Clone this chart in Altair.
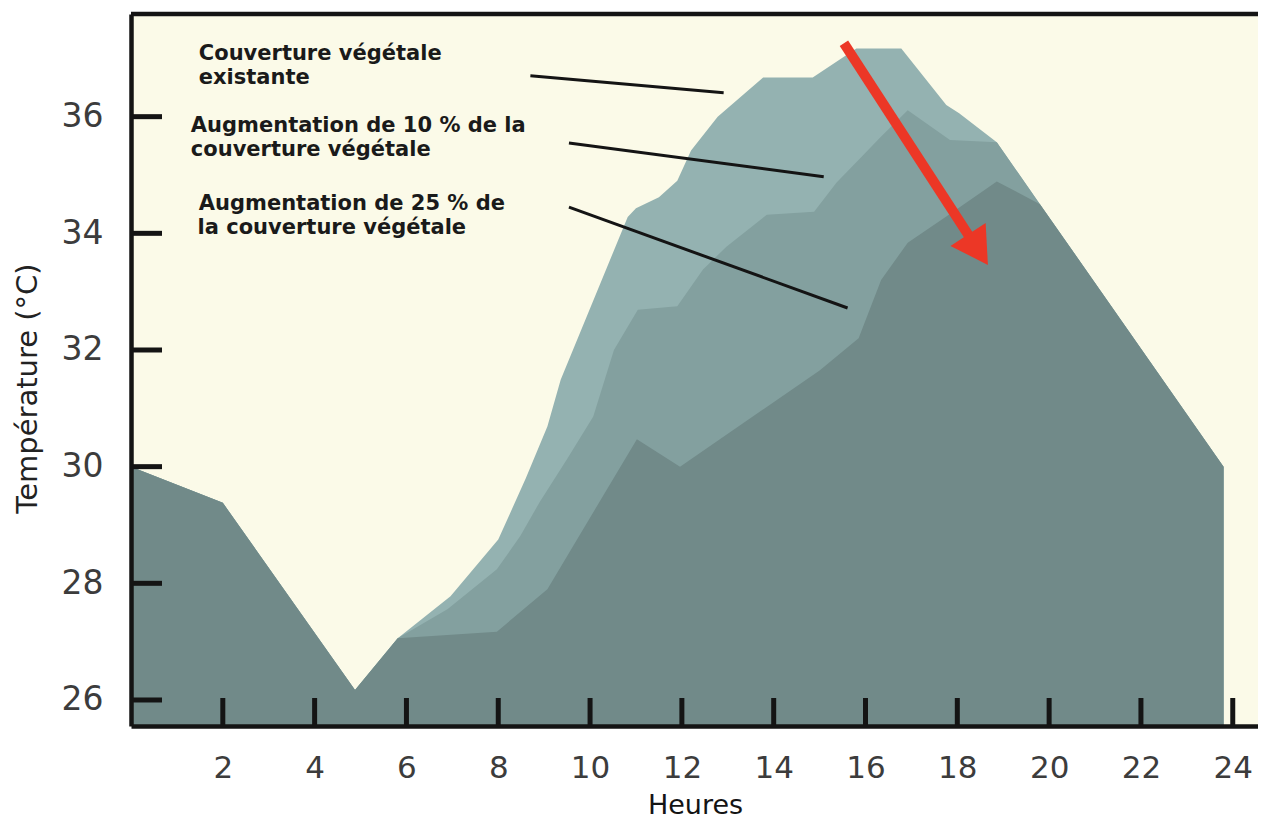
import altair as alt
import pandas as pd

# ---- data ----
hours_existing = [0, 2, 4.88, 5.81, 6.96, 8.0, 8.6, 9.07, 9.36, 10.82, 11.0, 11.5, 11.9, 12.2,
                  12.78, 13.77, 14.85, 15.8, 16.78, 17.76, 18.04, 18.86, 19.8, 23.8]
temp_existing = [30.0, 29.38, 26.17, 27.06, 27.78, 28.75, 29.8, 30.69, 31.49, 34.28, 34.43, 34.62, 34.9, 35.42,
                 36.0, 36.67, 36.67, 37.17, 37.17, 36.2, 36.06, 35.56, 34.5, 30.0]

hours_10 = [0, 2, 4.88, 5.81, 6.9, 7.97, 8.48, 8.9, 9.5, 10.07, 10.52, 11.04, 11.9, 12.46, 12.97,
            13.85, 14.88, 15.37, 15.9, 16.33, 16.92, 17.84, 18.86, 19.8, 23.8]
temp_10 = [30.0, 29.38, 26.17, 27.06, 27.56, 28.24, 28.81, 29.39, 30.13, 30.86, 32.0, 32.69, 32.75, 33.38, 33.77,
           34.32, 34.37, 34.87, 35.3, 35.65, 36.11, 35.6, 35.56, 34.5, 30.0]

hours_25 = [0, 2, 4.88, 5.81, 7.97, 9.07, 11.02, 11.96, 15.0, 15.85, 16.34, 16.92, 17.76, 18.86, 19.8, 23.8]
temp_25 = [30.0, 29.38, 26.17, 27.06, 27.17, 27.9, 30.47, 30.0, 31.65, 32.2, 33.2, 33.84, 34.29, 34.89, 34.5, 30.0]

x_ticks = [2, 4, 6, 8, 10, 12, 14, 16, 18, 20, 22, 24]
y_ticks = [26, 28, 30, 32, 34, 36]

label_text = ["Couverture végétale", "existante",
              "Augmentation de 10 % de la", "couverture végétale",
              "Augmentation de 25 % de", "la couverture végétale"]
label_x = [1.477, 1.477, 1.303, 1.303, 1.477, 1.45]
label_y = [36.972, 36.56, 35.738, 35.326, 34.40, 33.99]

leader_x1 = [8.70, 9.54, 9.54]
leader_y1 = [36.70, 35.55, 34.45]
leader_x2 = [12.91, 15.09, 15.61]
leader_y2 = [36.41, 34.97, 32.72]

arrow_x = [15.53, 18.45]
arrow_y = [37.26, 33.72]

# ---- styling ----
W, H = 1127, 712
FONT = "DejaVu Sans"
C_LIGHT = "#94B2B1"
C_MED = "#83A09F"
C_DARK = "#718A89"
C_RED = "#EC3726"
INK = "#141414"

xs = alt.Scale(domain=[0, 24.55], nice=False, zero=False)
ys = alt.Scale(domain=[25.554, 37.76], nice=False, zero=False)

xaxis = alt.Axis(values=x_ticks, ticks=False, tickSize=0, grid=False, domain=True,
                 domainColor=INK, domainWidth=4.5, labelFont=FONT, labelFontSize=31,
                 labelColor="#3c3c3c", labelPadding=27, title="Heures", titleFont=FONT,
                 titleFontSize=27, titleFontWeight="normal", titleColor=INK,
                 titleX=564, titleY=79, titleBaseline="middle", zindex=1, labelFlush=False)
yaxis = alt.Axis(values=y_ticks, ticks=False, tickSize=0, grid=False, domain=True,
                 domainColor=INK, domainWidth=4.5, labelFont=FONT, labelFontSize=33,
                 labelColor="#3c3c3c", labelPadding=28, title="Température (°C)", titleFont=FONT,
                 titleFontSize=29, titleFontWeight="normal", titleColor="#222222",
                 titleX=-104, titleY=374, titleBaseline="middle", titleAngle=270, zindex=1)


def area(h, t, color):
    df = pd.DataFrame({"h": h, "t": t})
    return alt.Chart(df).mark_area(color=color, opacity=1, clip=True).encode(
        x=alt.X("h:Q", scale=xs, axis=xaxis),
        y=alt.Y("t:Q", scale=ys, axis=yaxis),
        y2=alt.value(H),
    )


a_light = area(hours_existing, temp_existing, C_LIGHT)
a_med = area(hours_10, temp_10, C_MED)
a_dark = area(hours_25, temp_25, C_DARK)

xt = alt.Chart(pd.DataFrame({"v": x_ticks})).mark_rule(color=INK, strokeWidth=5).encode(
    x=alt.X("v:Q", scale=xs, axis=xaxis), y=alt.value(H), y2=alt.value(H - 28))
yt = alt.Chart(pd.DataFrame({"v": y_ticks})).mark_rule(color=INK, strokeWidth=5).encode(
    y=alt.Y("v:Q", scale=ys, axis=yaxis), x=alt.value(0), x2=alt.value(31))

top_border = alt.Chart(pd.DataFrame({"d": [0]})).mark_rule(color=INK, strokeWidth=4.5).encode(
    x=alt.value(0), x2=alt.value(W), y=alt.value(0))

leaders = alt.Chart(pd.DataFrame({"x1": leader_x1, "y1": leader_y1, "x2": leader_x2, "y2": leader_y2})
                    ).mark_rule(color=INK, strokeWidth=3).encode(
    x=alt.X("x1:Q", scale=xs, axis=xaxis), y=alt.Y("y1:Q", scale=ys, axis=yaxis),
    x2="x2:Q", y2="y2:Q")

shaft = alt.Chart(pd.DataFrame({"x1": [arrow_x[0]], "y1": [arrow_y[0]], "x2": [arrow_x[1]], "y2": [arrow_y[1]]})
                  ).mark_rule(color=C_RED, strokeWidth=10, strokeCap="butt").encode(
    x=alt.X("x1:Q", scale=xs, axis=xaxis), y=alt.Y("y1:Q", scale=ys, axis=yaxis),
    x2="x2:Q", y2="y2:Q")

head = alt.Chart(pd.DataFrame({"x": [arrow_x[1]], "y": [arrow_y[1]]})).mark_point(
    shape="triangle-up", filled=True, size=1764, angle=146.9, color=C_RED, opacity=1).encode(
    x=alt.X("x:Q", scale=xs, axis=xaxis), y=alt.Y("y:Q", scale=ys, axis=yaxis))

labels = alt.Chart(pd.DataFrame({"x": label_x, "y": label_y, "t": label_text})).mark_text(
    align="left", baseline="alphabetic", font=FONT, fontWeight="bold", fontSize=21, color="#1a1a1a").encode(
    x=alt.X("x:Q", scale=xs, axis=xaxis), y=alt.Y("y:Q", scale=ys, axis=yaxis), text="t:N")

chart = alt.layer(a_light, a_med, a_dark, xt, yt, leaders, shaft, head, labels, top_border).properties(
    width=W, height=H,
    padding={"left": 123, "top": 6, "right": 0, "bottom": 95},
    autosize=alt.AutoSizeParams(type="none"),
    background="white",
).configure_view(fill="#FBFAE8", stroke="transparent")

chart.save("out.html", embed_options={"renderer": "svg", "actions": False})
